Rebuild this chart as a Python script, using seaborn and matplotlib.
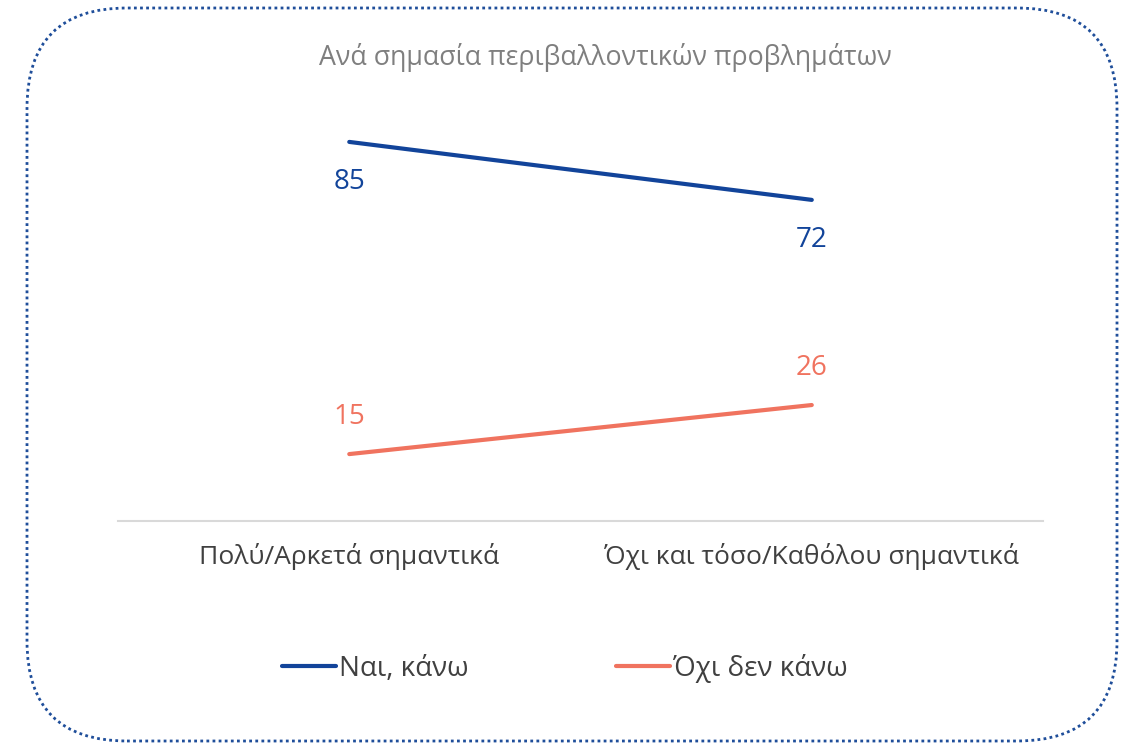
import matplotlib.pyplot as plt
import pandas as pd
import seaborn as sns
from matplotlib.patches import FancyBboxPatch

categories = ["Πολύ/Αρκετά σημαντικά", "Όχι και τόσο/Καθόλου σημαντικά"]
series_names = ["Ναι, κάνω", "Όχι δεν κάνω"]
yes_values = [85, 72]
no_values = [15, 26]
colors = ["#12449A", "#F0735F"]

df = pd.DataFrame({
    "category": categories * 2,
    "series": [series_names[0]] * 2 + [series_names[1]] * 2,
    "value": yes_values + no_values,
})

sns.set_theme(style="white")
plt.rcParams["font.family"] = ["Open Sans", "DejaVu Sans"]

fig = plt.figure(figsize=(11.27, 7.45), dpi=100)
ax = fig.add_axes([0.1047, 0.3007, 0.8208, 0.5986])

sns.lineplot(data=df, x="category", y="value", hue="series",
             palette=colors, linewidth=3, sort=False, ax=ax, legend=False)

ax.set_xlim(-0.5, 1.5)
ax.set_ylim(0, 100)
ax.set_xlabel("")
ax.set_ylabel("")
ax.set_yticks([])
ax.tick_params(axis="x", length=0, pad=16, labelsize=19, labelcolor="#404040")
for side in ["top", "left", "right"]:
    ax.spines[side].set_visible(False)
ax.spines["bottom"].set_color("#D9D9D9")
ax.spines["bottom"].set_linewidth(1.5)

# data labels: blue below the line, orange above it
for i, v in enumerate(yes_values):
    ax.annotate(str(v), (i, v), xytext=(0, -29), textcoords="offset points",
                ha="center", va="center", fontsize=20, color=colors[0])
for i, v in enumerate(no_values):
    ax.annotate(str(v), (i, v), xytext=(0, 27), textcoords="offset points",
                ha="center", va="center", fontsize=20, color=colors[1])

fig.text(0.537, 0.923, "Ανά σημασία περιβαλλοντικών προβλημάτων",
         ha="center", va="center", fontsize=19.3, color="#7F7F7F")

handles = [plt.Line2D([], [], color=c, linewidth=3) for c in colors]
fig.legend(handles, series_names, loc="center", bbox_to_anchor=(0.501, 0.103),
           ncol=2, frameon=False, fontsize=20, handlelength=1.95,
           handletextpad=0.1, columnspacing=5.3, labelcolor="#404040")

border = FancyBboxPatch((0.27, 0.04), 10.9, 7.33,
                        boxstyle="round,pad=0,rounding_size=1.0",
                        transform=fig.dpi_scale_trans, fill=False,
                        edgecolor="#1F4E9A", linewidth=2, linestyle=(0, (1, 1.2)))
fig.patches.append(border)

fig.savefig("out.png", dpi=100)
